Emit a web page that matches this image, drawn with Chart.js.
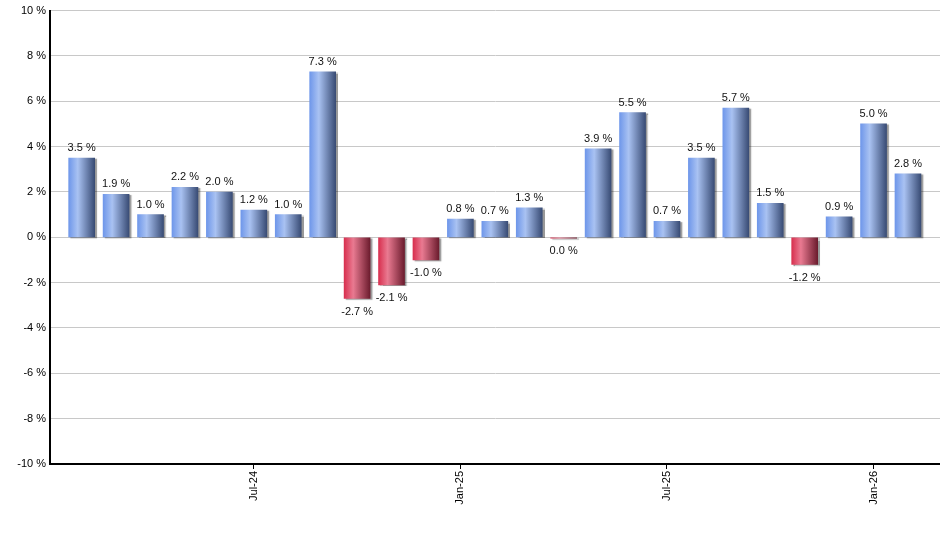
<!DOCTYPE html>
<html>
<head>
<meta charset="utf-8">
<script src="https://cdn.jsdelivr.net/npm/chart.js@4/dist/chart.umd.min.js"></script>
<style>
    html, body { margin: 0; padding: 0; background: #fff; }
    #wrap { width: 940px; height: 550px; }
</style>
</head>
<body>
<div id="wrap"><canvas id="returnsChart"></canvas></div>
<script>
// monthly returns, Feb-24 .. Feb-26
const months = ['Feb-24', 'Mar-24', 'Apr-24', 'May-24', 'Jun-24', 'Jul-24', 'Aug-24', 'Sep-24',
               'Oct-24', 'Nov-24', 'Dec-24', 'Jan-25', 'Feb-25', 'Mar-25', 'Apr-25', 'May-25',
               'Jun-25', 'Jul-25', 'Aug-25', 'Sep-25', 'Oct-25', 'Nov-25', 'Dec-25', 'Jan-26', 'Feb-26'];
const returns = [3.5, 1.9, 1.0, 2.2, 2.0, 1.2, 1.0, 7.3,
                 -2.7, -2.1, -1.0, 0.8, 0.7, 1.3, -0.04, 3.9,
                 5.5, 0.7, 3.5, 5.7, 1.5, -1.2, 0.9, 5.0, 2.8];
const tickLabels = ['Jul-24', 'Jan-25', 'Jul-25', 'Jan-26'];
const yTicks = [-10, -8, -6, -4, -2, 0, 2, 4, 6, 8, 10];

const FONT = 'Liberation Sans, Arial, sans-serif';
const BAR_W = 26;

function barGradient(context) {
    const chart = context.chart;
    const xScale = chart.scales.x;
    const neg = returns[context.dataIndex] < 0;
    if (!xScale || context.dataIndex === undefined) return neg ? '#d8304f' : '#6f97ea';
    const cx = xScale.getPixelForValue(context.dataIndex);
    if (!isFinite(cx)) return neg ? '#d8304f' : '#6f97ea';
    const g = chart.ctx.createLinearGradient(cx - BAR_W / 2, 0, cx + BAR_W / 2, 0);
    if (neg) {
        g.addColorStop(0, '#d8304f');
        g.addColorStop(0.35, '#e97a91');
        g.addColorStop(1, '#6c1c2e');
    } else {
        g.addColorStop(0, '#6f97ea');
        g.addColorStop(0.35, '#a9c2f2');
        g.addColorStop(1, '#394c75');
    }
    return g;
}

// drop shadow under the bars
const shadowPlugin = {
    id: 'barShadow',
    beforeDatasetsDraw(chart) {
        const ctx = chart.ctx;
        ctx.save();
        ctx.shadowColor = 'rgba(0,0,0,0.4)';
        ctx.shadowOffsetX = 2;
        ctx.shadowOffsetY = 1;
        ctx.shadowBlur = 1;
    },
    afterDatasetsDraw(chart) {
        chart.ctx.restore();
    }
};

// value labels above / below each bar
const valueLabels = {
    id: 'valueLabels',
    afterDatasetsDraw(chart) {
        const ctx = chart.ctx;
        const meta = chart.getDatasetMeta(0);
        ctx.save();
        ctx.font = '11px ' + FONT;
        ctx.fillStyle = '#111';
        ctx.textAlign = 'center';
        ctx.textBaseline = 'alphabetic';
        meta.data.forEach((bar, i) => {
            const v = returns[i];
            const txt = v.toFixed(1).replace('-0.0', '0.0') + ' %';
            if (v >= 0) {
                ctx.fillText(txt, bar.x, bar.y - 7);
            } else {
                ctx.fillText(txt, bar.x, bar.y + 16);
            }
        });
        ctx.restore();
    }
};

new Chart(document.getElementById('returnsChart'), {
    type: 'bar',
    data: {
        datasets: [{
            data: returns.map((v, i) => ({ x: i, y: v })),
            backgroundColor: barGradient,
            borderWidth: 0,
            barThickness: BAR_W
        }]
    },
    options: {
        responsive: true,
        maintainAspectRatio: false,
        animation: false,
        layout: { padding: { top: 7, right: 0, left: 0, bottom: 0 } },
        plugins: {
            legend: { display: false },
            tooltip: { enabled: false }
        },
        scales: {
            x: {
                type: 'linear',
                offset: false,
                min: -0.92,
                max: 24.93,
                afterBuildTicks: (axis) => {
                    axis.ticks = tickLabels.map(l => ({ value: months.indexOf(l) }));
                },
                afterFit: (axis) => { axis.height = 86; },
                grid: {
                    display: true,
                    offset: false,
                    drawOnChartArea: false,
                    drawTicks: true,
                    tickLength: 5,
                    color: '#000'
                },
                border: { display: true, color: '#000', width: 2 },
                ticks: {
                    autoSkip: false,
                    minRotation: 90,
                    maxRotation: 90,
                    padding: 2,
                    color: '#000',
                    font: { family: FONT, size: 11 },
                    callback: (value) => months[value]
                }
            },
            y: {
                min: -10,
                max: 10,
                afterBuildTicks: (axis) => {
                    axis.ticks = yTicks.map(v => ({ value: v }));
                },
                afterFit: (axis) => { axis.width = 50; },
                grid: {
                    color: '#c8c8c8',
                    lineWidth: 1,
                    drawTicks: false
                },
                border: { display: true, color: '#000', width: 2 },
                ticks: {
                    padding: 4,
                    color: '#000',
                    font: { family: FONT, size: 11 },
                    callback: (value) => value + ' %'
                }
            }
        }
    },
    plugins: [shadowPlugin, valueLabels]
});
</script>
</body>
</html>
